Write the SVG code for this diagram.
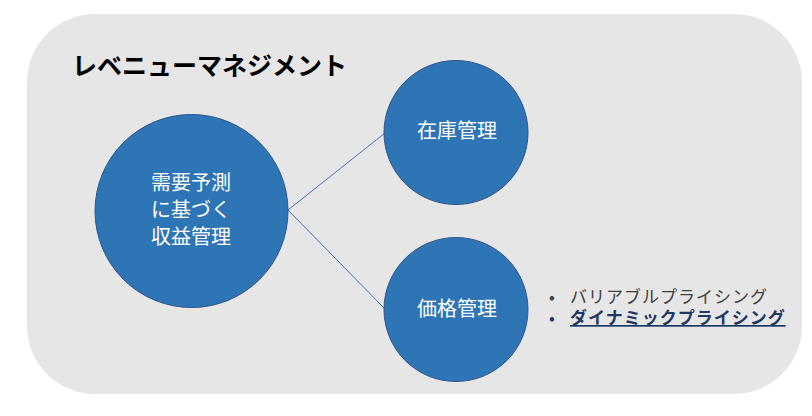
<svg xmlns="http://www.w3.org/2000/svg" width="812" height="416" viewBox="0 0 812 416">
<style>
.node{fill:#2E75B6;stroke:#2F528F;stroke-width:1}
.nt{font-family:"Noto Sans CJK JP","Noto Sans",sans-serif;font-size:20px;fill:#FFFFFF;text-anchor:middle}
.conn{stroke:#4472C4;stroke-width:1;fill:none}
.b{font-family:"Noto Sans CJK JP","Noto Sans",sans-serif;font-size:17px;letter-spacing:1px}
</style>
<rect width="812" height="416" fill="#FFFFFF"/>
<g id="background">
<rect x="27" y="14" width="775" height="380" rx="68" ry="68" fill="#E7E6E6"/>
</g>
<g id="title">
<text x="72" y="75" font-family="'Noto Sans CJK JP','Noto Sans',sans-serif" font-size="25" font-weight="bold" fill="#000000">レベニューマネジメント</text>
</g>
<g id="connectors">
<line class="conn" x1="288" y1="210" x2="385" y2="133"/>
<line class="conn" x1="288" y1="210" x2="385" y2="309"/>
</g>
<g id="node-main">
<circle class="node" cx="191.5" cy="211" r="96.5"/>
<text class="nt" x="191" y="190">需要予測</text>
<text class="nt" x="191" y="217">に基づく</text>
<text class="nt" x="191" y="244">収益管理</text>
</g>
<g id="node-inventory">
<circle class="node" cx="456" cy="132.5" r="72"/>
<text class="nt" x="457" y="138">在庫管理</text>
</g>
<g id="node-price">
<circle class="node" cx="456" cy="309.5" r="72"/>
<text class="nt" x="457" y="316">価格管理</text>
</g>
<g id="bullets">
<text class="b" x="549" y="303" fill="#404040">•</text>
<text class="b" x="570" y="303" fill="#404040">バリアブルプライシング</text>
<text class="b" x="549" y="324" fill="#1F3864">•</text>
<text class="b" x="570" y="324" fill="#1F3864" font-weight="bold" text-decoration="underline">ダイナミックプライシング</text>
</g>
</svg>
